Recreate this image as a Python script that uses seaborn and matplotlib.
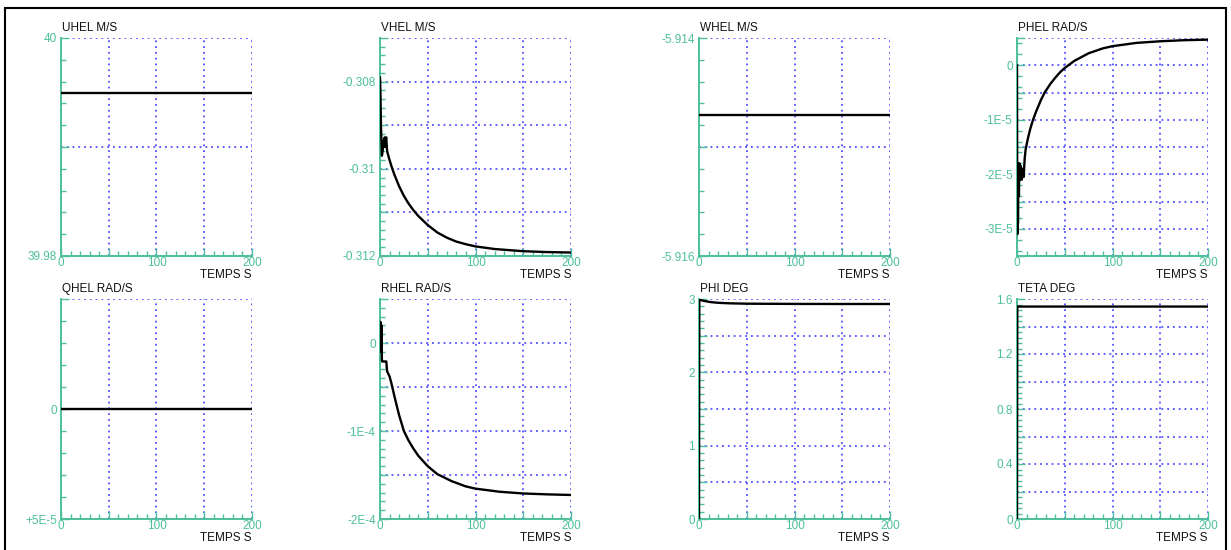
#!/usr/bin/env python3
"""
Helicopter state time histories (8 panels), redrawn with seaborn.
"""

import numpy as np
import pandas as pd
import matplotlib
matplotlib.use("Agg")
import matplotlib.pyplot as plt
from matplotlib.patches import Rectangle
from matplotlib.ticker import MultipleLocator
import seaborn as sns

# ---- data (time in s) ----
uhel_t = [0, 200]
uhel_v = [39.995, 39.995]

vhel_t = [0, 0.5, 1, 2, 3, 4, 5, 5.5, 6, 6.5, 7.5, 8.5, 10, 12, 15, 20, 25,
          30, 35, 40, 50, 60, 70, 80, 90, 100, 120, 150, 175, 200]
vhel_v = [-0.30790, -0.30830, -0.30900, -0.30970, -0.30955, -0.30935, -0.30928,
          -0.30950, -0.30935, -0.30928, -0.30960, -0.30968, -0.30980, -0.30994,
          -0.31013, -0.31040, -0.31062, -0.31080, -0.31095, -0.31108, -0.31129,
          -0.31146, -0.31158, -0.31167, -0.31173, -0.31178, -0.31184, -0.31189,
          -0.31191, -0.31192]

whel_t = [0, 200]
whel_v = [-5.91471, -5.91471]

phel_t = [0, 0.3, 0.6, 1, 1.5, 2, 2.5, 3, 4, 5, 6, 7, 8, 9, 10.5, 12, 14,
          16.8, 20, 25, 29, 35, 40, 45, 50, 60, 75, 90, 100, 125, 150, 175, 200]
phel_v = [0.0, -3.1e-5, -1.8e-5, -2.9e-5, -1.9e-5, -2.4e-5, -1.8e-5, -2.1e-5,
          -1.85e-5, -2.1e-5, -1.9e-5, -2.05e-5, -1.72e-5, -1.55e-5, -1.42e-5,
          -1.30e-5, -1.16e-5, -1.0e-5, -0.85e-5, -0.64e-5, -0.50e-5, -0.34e-5,
          -0.23e-5, -0.13e-5, -0.05e-5, 0.08e-5, 0.22e-5, 0.31e-5, 0.35e-5,
          0.41e-5, 0.44e-5, 0.46e-5, 0.47e-5]

qhel_t = [0, 200]
qhel_v = [0.0, 0.0]

rhel_t = [0, 0.5, 1, 1.5, 2, 2.5, 4, 6.6, 7.4, 10, 12, 15, 17, 20, 25, 30, 35,
          40, 50, 60, 75, 90, 100, 125, 150, 175, 200]
rhel_v = [0.0, 0.24e-4, -0.1e-4, 0.2e-4, -0.2e-4, -0.21e-4, -0.21e-4, -0.21e-4,
          -0.32e-4, -0.38e-4, -0.46e-4, -0.60e-4, -0.69e-4, -0.82e-4, -1.0e-4,
          -1.11e-4, -1.20e-4, -1.28e-4, -1.40e-4, -1.49e-4, -1.57e-4, -1.63e-4,
          -1.655e-4, -1.69e-4, -1.71e-4, -1.72e-4, -1.727e-4]

phi_t = [0, 0.3, 5, 11.6, 20, 32.7, 50, 100, 150, 200]
phi_v = [0.0, 2.99, 2.975, 2.959, 2.948, 2.941, 2.936, 2.933, 2.932, 2.932]

teta_t = [0, 0.3, 200]
teta_v = [0.0, 1.545, 1.545]

# ---- panel configuration ----
panels = [
    # title, t, v, ylim, grid ticks, tick labels, minor step
    ("UHEL M/S", uhel_t, uhel_v, (39.98, 40.0), [39.98, 39.99, 40.0],
     ["39.98", "", "40"], 0.002),
    ("VHEL M/S", vhel_t, vhel_v, (-0.312, -0.307),
     [-0.312, -0.311, -0.310, -0.309, -0.308, -0.307],
     ["-0.312", "", "-0.31", "", "-0.308", ""], 0.0002),
    ("WHEL M/S", whel_t, whel_v, (-5.916, -5.914), [-5.916, -5.915, -5.914],
     ["-5.916", "", "-5.914"], 0.0002),
    ("PHEL RAD/S", phel_t, phel_v, (-3.5e-5, 0.5e-5),
     [-3.5e-5, -3e-5, -2.5e-5, -2e-5, -1.5e-5, -1e-5, -0.5e-5, 0, 0.5e-5],
     ["", "-3E-5", "", "-2E-5", "", "-1E-5", "", "0", ""], 0.2e-5),
    ("QHEL RAD/S", qhel_t, qhel_v, (5e-5, -5e-5), [5e-5, 0, -5e-5],
     ["+5E-5", "0", ""], 1e-5),
    ("RHEL RAD/S", rhel_t, rhel_v, (-2e-4, 0.5e-4),
     [-2e-4, -1.5e-4, -1e-4, -0.5e-4, 0, 0.5e-4],
     ["-2E-4", "", "-1E-4", "", "0", ""], 0.1e-4),
    ("PHI DEG", phi_t, phi_v, (0, 3), [0, 0.5, 1, 1.5, 2, 2.5, 3],
     ["0", "", "1", "", "2", "", "3"], 0.1),
    ("TETA DEG", teta_t, teta_v, (0, 1.6),
     [0, 0.2, 0.4, 0.6, 0.8, 1.0, 1.2, 1.4, 1.6],
     ["0", "", "0.4", "", "0.8", "", "1.2", "", "1.6"], 0.04),
]

TEAL = "#4dbf9c"
GRID = "#4f4fff"
W, H = 1231, 550
lefts = [61, 380, 699, 1017]
rows = [(38, 256), (299, 519)]
axw = 191

sns.set_theme(style="white")
plt.rcParams["font.family"] = ["Liberation Sans", "DejaVu Sans"]

fig = plt.figure(figsize=(W / 100, H / 100), dpi=100)

for i, (title, t, v, ylim, yt, ylab, ystep) in enumerate(panels):
    top, bot = rows[i // 4]
    left = lefts[i % 4]
    ax = fig.add_axes([left / W, 1 - bot / H, axw / W, (bot - top) / H])

    df = pd.DataFrame({"t": t, "v": v})
    sns.lineplot(data=df, x="t", y="v", ax=ax, color="black", lw=1.7,
                 estimator=None, sort=False, zorder=5)

    ax.set_xlim(0, 200)
    ax.set_ylim(*ylim)
    ax.set_xticks([0, 50, 100, 150, 200])
    ax.set_xticklabels(["0", "", "100", "", "200"])
    ax.xaxis.set_minor_locator(MultipleLocator(10))
    ax.set_yticks(yt)
    ax.set_yticklabels(ylab)
    ax.yaxis.set_minor_locator(MultipleLocator(ystep))

    ax.grid(True, which="major", color=GRID, ls=(0, (1, 2.2)), lw=1.3)
    ax.tick_params(axis="both", which="both", left=True, bottom=True,
                   direction="in", color=TEAL, width=1)
    ax.tick_params(axis="both", which="major", length=6,
                   labelcolor=TEAL, labelsize=8.5, pad=3)
    ax.tick_params(axis="both", which="minor", length=3.5)
    ax.tick_params(axis="x", which="major", pad=1)

    for side in ["top", "right"]:
        ax.spines[side].set_visible(False)
    for side in ["left", "bottom"]:
        ax.spines[side].set_color(TEAL)
        ax.spines[side].set_linewidth(1.4)

    ax.set_xlabel("")
    ax.set_ylabel("")
    ax.text(0.005, 1.018, title, transform=ax.transAxes, ha="left",
            va="bottom", fontsize=8.5, color="#111111")
    ax.text(1.0, -0.085, "TEMPS S", transform=ax.transAxes, ha="right",
            va="center", fontsize=8.5, color="#111111")

# outer frame
fig.patches.append(Rectangle((5 / W, -0.05), 1221 / W, 1 - 8 / H + 0.05,
                             transform=fig.transFigure, fill=False,
                             edgecolor="black", lw=1.5))

fig.savefig("out.png", dpi=100)
